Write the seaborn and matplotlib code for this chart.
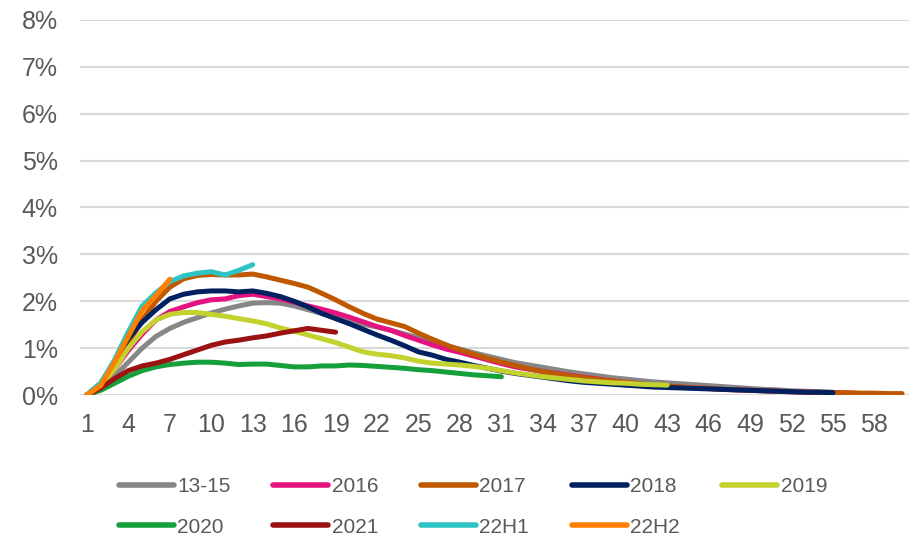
import numpy as np
import pandas as pd
import seaborn as sns
import matplotlib.pyplot as plt

series_names = ["13-15", "2016", "2017", "2018", "2019", "2020", "2021", "22H1", "22H2"]
colors = ["#878787", "#E5137F", "#C05800", "#002060", "#C3D22F",
          "#16A03C", "#9A1212", "#2EC4C4", "#FF7F00"]

# values in % by month since origination
s_13_15 = [0, 0.15, 0.4, 0.7, 1.0, 1.25, 1.42, 1.55, 1.65, 1.75, 1.83, 1.9, 1.96, 1.97, 1.96,
           1.9, 1.82, 1.74, 1.66, 1.58, 1.51, 1.45, 1.38, 1.3, 1.22, 1.13, 1.05, 0.98, 0.9, 0.83,
           0.76, 0.69, 0.64, 0.59, 0.54, 0.49, 0.45, 0.41, 0.37, 0.34, 0.31, 0.28, 0.26, 0.24, 0.22,
           0.2, 0.18, 0.16, 0.14, 0.12, 0.11, 0.09, 0.08, 0.07, 0.06]
s_2016 = [0, 0.2, 0.55, 0.95, 1.3, 1.6, 1.78, 1.88, 1.97, 2.03, 2.05, 2.12, 2.15, 2.1, 2.05,
          1.98, 1.9, 1.83, 1.75, 1.66, 1.56, 1.46, 1.38, 1.27, 1.17, 1.07, 0.98, 0.91, 0.83, 0.75,
          0.67, 0.6, 0.55, 0.5, 0.46, 0.42, 0.38, 0.34, 0.3, 0.27, 0.24, 0.21, 0.19, 0.17, 0.15,
          0.14, 0.12, 0.11, 0.1, 0.09, 0.08, 0.07, 0.06, 0.05, 0.05, 0.04, 0.03, 0.03, 0.02]
s_2017 = [0, 0.2, 0.6, 1.1, 1.6, 2.0, 2.3, 2.48, 2.55, 2.57, 2.56, 2.56, 2.58, 2.52, 2.45,
          2.38, 2.3, 2.17, 2.03, 1.88, 1.74, 1.62, 1.54, 1.46, 1.32, 1.19, 1.07, 0.96, 0.87, 0.78,
          0.7, 0.63, 0.56, 0.5, 0.45, 0.41, 0.37, 0.33, 0.3, 0.27, 0.24, 0.21, 0.19, 0.17, 0.15,
          0.14, 0.12, 0.11, 0.1, 0.09, 0.08, 0.07, 0.06, 0.06, 0.05, 0.05, 0.04, 0.04, 0.03, 0.03]
s_2018 = [0, 0.25, 0.7, 1.2, 1.55, 1.82, 2.05, 2.15, 2.2, 2.22, 2.22, 2.2, 2.22, 2.17, 2.1,
          2.0, 1.88, 1.74, 1.63, 1.52, 1.4, 1.28, 1.17, 1.05, 0.92, 0.85, 0.76, 0.7, 0.63, 0.57,
          0.51, 0.46, 0.42, 0.38, 0.34, 0.3, 0.27, 0.25, 0.23, 0.21, 0.19, 0.17, 0.16, 0.15, 0.14,
          0.13, 0.12, 0.11, 0.1, 0.09, 0.08, 0.07, 0.06, 0.06, 0.05]
s_2019 = [0, 0.2, 0.55, 1.0, 1.35, 1.6, 1.72, 1.76, 1.76, 1.72, 1.68, 1.63, 1.58, 1.52, 1.43,
          1.36, 1.28, 1.2, 1.12, 1.02, 0.92, 0.87, 0.84, 0.79, 0.72, 0.68, 0.66, 0.64, 0.61, 0.57,
          0.52, 0.47, 0.43, 0.39, 0.36, 0.33, 0.3, 0.28, 0.26, 0.25, 0.23, 0.22, 0.21]
s_2020 = [0, 0.1, 0.25, 0.4, 0.52, 0.6, 0.65, 0.68, 0.7, 0.7, 0.68, 0.65, 0.66, 0.66, 0.63,
          0.6, 0.6, 0.62, 0.62, 0.64, 0.63, 0.61, 0.59, 0.57, 0.54, 0.52, 0.49, 0.46, 0.43, 0.41,
          0.39]
s_2021 = [0, 0.15, 0.35, 0.52, 0.62, 0.68, 0.76, 0.86, 0.96, 1.06, 1.13, 1.17, 1.22, 1.26, 1.32,
          1.37, 1.42, 1.38, 1.34]
s_22h1 = [0, 0.25, 0.75, 1.35, 1.9, 2.18, 2.42, 2.54, 2.6, 2.63, 2.56, 2.66, 2.78]
s_22h2 = [0, 0.2, 0.7, 1.25, 1.8, 2.12, 2.47]

all_series = [s_13_15, s_2016, s_2017, s_2018, s_2019, s_2020, s_2021, s_22h1, s_22h2]

frames = []
for name, vals in zip(series_names, all_series):
    frames.append(pd.DataFrame({"month": np.arange(1, len(vals) + 1),
                                "rate": np.array(vals) / 100, "vintage": name}))
df = pd.concat(frames, ignore_index=True)

sns.set_style("white")
plt.rcParams["font.family"] = ["Liberation Sans", "DejaVu Sans"]

fig = plt.figure(figsize=(9.14, 5.4), dpi=100)
ax = fig.add_axes([0.0875, 0.2685, 0.907, 0.6945])

sns.lineplot(data=df, x="month", y="rate", hue="vintage", hue_order=series_names,
             palette=colors, linewidth=3.6, legend=False, ax=ax,
             solid_capstyle="round")

ax.set_xlim(0.5, 60.5)
ax.set_ylim(0, 0.08)
ax.set_xticks(np.arange(1, 59, 3))
ax.set_yticks(np.arange(0, 0.081, 0.01))
ax.yaxis.set_major_formatter(plt.FuncFormatter(lambda v, p: f"{v * 100:.0f}%"))
ax.tick_params(axis="both", labelsize=18, colors="#595959", length=0)
ax.tick_params(axis="x", pad=13)
ax.tick_params(axis="y", pad=16)
ax.grid(axis="y", color="#d9d9d9", linewidth=1.5)
ax.set_axisbelow(True)
ax.set_xlabel("")
ax.set_ylabel("")
for sp in ax.spines.values():
    sp.set_visible(False)

# legend fills column by column, so reorder to read row by row (5 per row)
lines = ax.get_lines()[:len(series_names)]
order = [0, 5, 1, 6, 2, 7, 3, 8, 4]
handles = [lines[i] for i in order]
labels = [series_names[i] for i in order]
leg = fig.legend(handles, labels, loc="upper left", bbox_to_anchor=(0.13, 0.117),
                 ncol=5, frameon=False, handlelength=2.65, handletextpad=0.15,
                 columnspacing=2.05, labelspacing=1.05, borderpad=0, borderaxespad=0,
                 prop={"family": ["Liberation Sans", "DejaVu Sans"], "size": 15})
for t in leg.get_texts():
    t.set_color("#595959")
for h in leg.legend_handles:
    h.set_linewidth(4)

fig.savefig("out.png", dpi=100)
